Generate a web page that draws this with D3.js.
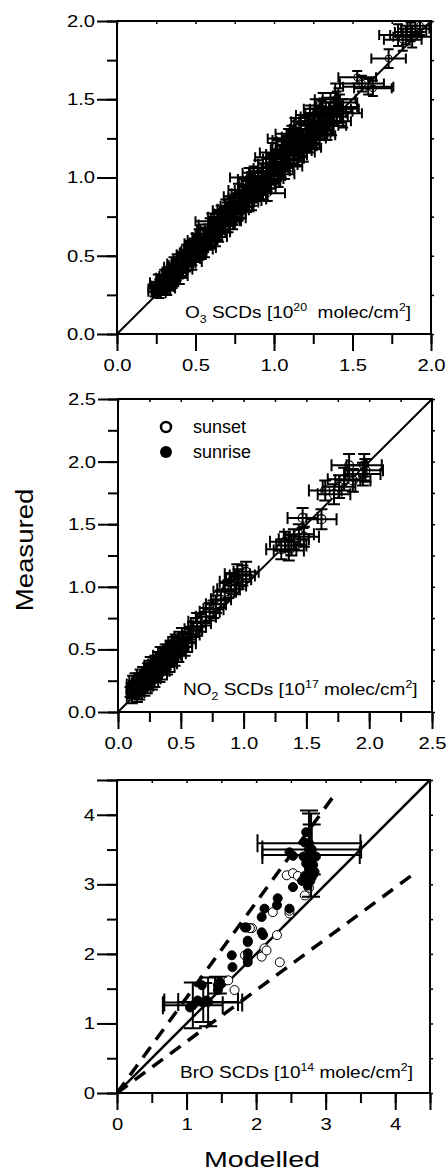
<!DOCTYPE html>
<html lang="en">
<head>
<meta charset="UTF-8">
<title>Measured vs Modelled SCDs</title>
<style>
  body { margin: 0; background: #fff; }
  svg text { font-family: "Liberation Sans", Arial, sans-serif; fill: #000; }
</style>
</head>
<body>
<svg class="chart"></svg>
<script src="https://d3js.org/d3.v7.min.js"></script>
<script>
// ---- O3 panel (all sunset, open circles) ----
var o3Modelled = [0.24,0.25,0.26,0.27,0.27,0.28,0.29,0.29,0.30,0.31,0.31,0.32,0.33,0.33,0.34,0.35,0.35,0.36,0.37,0.38,
  0.39,0.40,0.41,0.42,0.43,0.44,0.45,0.46,0.47,0.48,0.49,0.50,0.51,0.52,0.53,0.55,0.56,0.57,0.58,0.60,
  0.61,0.62,0.64,0.64,0.65,0.67,0.68,0.69,0.70,0.72,0.73,0.74,0.75,0.76,0.78,0.79,0.80,0.81,0.82,0.84,
  0.84,0.85,0.86,0.88,0.89,0.90,0.92,0.93,0.94,0.95,0.96,0.97,0.98,1.00,1.01,1.02,1.04,1.05,1.06,1.08,
  1.09,1.09,1.10,1.12,1.13,1.14,1.16,1.17,1.18,1.20,1.21,1.22,1.24,1.25,1.26,1.28,1.29,1.30,1.32,1.33,
  1.35,1.36,1.38,1.40,1.42,1.53,1.56,1.60,1.63,1.73,1.79,1.84,1.82,1.87,1.90,1.93,1.88,
  0.30,0.34,0.38,0.42,0.46,0.50,0.54,0.59,0.63,0.66,0.71,0.77,0.83,0.87,0.91,0.99,1.03,1.11,1.15,1.23,
  1.27,1.31,1.37,1.41,
  0.26,0.32,0.36,0.40,0.44,0.48,0.52,0.56,0.60,0.65,0.69,0.74,0.80,0.86,0.90,0.96,1.02,1.07,1.13,1.19,
  1.26,1.34,1.39,1.44];
var o3Measured = [0.27,0.29,0.28,0.31,0.26,0.30,0.33,0.28,0.32,0.35,0.30,0.34,0.37,0.32,0.36,0.40,0.35,0.38,0.42,0.39,
  0.44,0.41,0.46,0.44,0.48,0.45,0.50,0.48,0.53,0.50,0.55,0.52,0.57,0.55,0.58,0.57,0.62,0.60,0.64,0.62,
  0.67,0.65,0.72,0.66,0.71,0.70,0.74,0.72,0.77,0.75,0.80,0.77,0.82,0.79,0.84,0.81,0.87,0.84,0.90,0.88,
  1.00,0.92,0.89,0.95,0.92,0.98,0.96,1.01,0.97,1.04,0.90,1.01,1.06,1.04,1.09,1.06,1.12,1.08,1.15,1.12,
  1.18,1.25,1.14,1.20,1.17,1.23,1.20,1.26,1.22,1.28,1.25,1.31,1.28,1.34,1.30,1.36,1.33,1.39,1.36,1.41,
  1.39,1.44,1.42,1.45,1.44,1.64,1.60,1.58,1.57,1.76,1.91,1.91,1.88,1.93,1.95,1.97,1.90,
  0.36,0.33,0.45,0.41,0.52,0.58,0.54,0.67,0.62,0.75,0.72,0.88,0.85,0.99,0.93,1.13,1.02,1.24,1.16,1.36,
  1.27,1.44,1.36,1.48,
  0.33,0.29,0.43,0.37,0.51,0.46,0.60,0.55,0.70,0.65,0.79,0.74,0.92,0.86,1.03,0.99,1.16,1.07,1.28,1.19,
  1.40,1.33,1.50,1.41];
var o3ErrX = [0.04,0.05,0.04,0.05,0.04,0.05,0.04,0.05,0.05,0.04,0.05,0.05,0.06,0.05,0.05,0.06,0.05,0.06,0.05,0.06,
  0.06,0.05,0.06,0.06,0.07,0.06,0.06,0.07,0.06,0.07,0.06,0.07,0.07,0.06,0.07,0.07,0.08,0.07,0.08,0.07,
  0.08,0.07,0.14,0.08,0.07,0.08,0.08,0.07,0.08,0.08,0.09,0.08,0.09,0.08,0.09,0.08,0.09,0.09,0.09,0.09,
  0.12,0.10,0.09,0.10,0.09,0.10,0.09,0.10,0.10,0.10,0.11,0.10,0.11,0.10,0.11,0.10,0.11,0.10,0.11,0.11,
  0.11,0.13,0.11,0.11,0.11,0.12,0.11,0.12,0.11,0.12,0.12,0.12,0.12,0.12,0.12,0.12,0.12,0.13,0.12,0.13,
  0.12,0.13,0.12,0.13,0.12,0.12,0.14,0.16,0.12,0.11,0.12,0.10,0.12,0.10,0.09,0.08,0.12,
  0.05,0.05,0.06,0.06,0.06,0.07,0.07,0.08,0.07,0.08,0.08,0.09,0.09,0.10,0.10,0.11,0.10,0.12,0.11,0.12,
  0.12,0.12,0.12,0.12,
  0.05,0.05,0.06,0.05,0.06,0.06,0.07,0.07,0.08,0.07,0.08,0.08,0.09,0.09,0.10,0.10,0.11,0.11,0.12,0.11,
  0.12,0.12,0.13,0.12];
var o3ErrY = [0.03,0.04,0.03,0.04,0.03,0.04,0.04,0.03,0.04,0.05,0.04,0.04,0.05,0.04,0.05,0.05,0.04,0.05,0.05,0.05,
  0.05,0.05,0.06,0.05,0.06,0.05,0.06,0.05,0.06,0.06,0.06,0.05,0.06,0.06,0.06,0.05,0.06,0.06,0.06,0.06,
  0.07,0.06,0.07,0.06,0.07,0.06,0.07,0.06,0.07,0.06,0.07,0.07,0.07,0.06,0.07,0.07,0.07,0.06,0.08,0.07,
  0.06,0.08,0.07,0.08,0.07,0.08,0.07,0.08,0.07,0.08,0.05,0.08,0.08,0.08,0.08,0.08,0.09,0.08,0.09,0.08,
  0.09,0.06,0.08,0.09,0.08,0.09,0.09,0.09,0.09,0.10,0.09,0.10,0.09,0.10,0.09,0.10,0.09,0.10,0.09,0.10,
  0.09,0.10,0.09,0.10,0.09,0.04,0.05,0.05,0.05,0.06,0.07,0.06,0.07,0.06,0.05,0.06,0.07,
  0.05,0.04,0.06,0.05,0.06,0.06,0.06,0.07,0.06,0.07,0.07,0.08,0.07,0.08,0.07,0.09,0.08,0.09,0.08,0.10,
  0.09,0.10,0.09,0.09,
  0.05,0.04,0.06,0.05,0.06,0.05,0.07,0.06,0.07,0.06,0.07,0.07,0.08,0.07,0.08,0.08,0.09,0.08,0.10,0.09,
  0.10,0.09,0.10,0.09];

// ---- NO2 panel ----
var no2Modelled = [0.10,0.11,0.12,0.13,0.14,0.15,0.16,0.17,0.18,0.19,0.20,0.21,0.22,0.23,0.24,0.25,0.26,0.27,0.28,0.29,
  0.30,0.31,0.32,0.33,0.34,0.35,0.36,0.37,0.38,0.39,0.40,0.41,0.42,0.43,0.44,0.45,0.47,0.48,0.50,0.52,
  0.55,0.58,0.60,0.63,0.66,0.63,0.70,0.73,0.76,0.78,0.82,0.85,0.88,0.90,0.93,0.96,0.99,1.02,0.95,1.30,
  1.33,1.36,1.40,1.44,1.48,1.38,1.47,1.62,1.65,1.72,1.76,1.80,1.84,1.87,1.96,1.97,1.95,
  0.12,0.15,0.18,0.21,0.24,0.27,0.30,0.33,0.36,0.39,0.42,0.45,0.49,0.53,0.46,0.26,
  0.11,0.14,0.17,0.20,0.23,0.26,0.29,0.32,0.35,0.38,0.41,0.44,0.48,0.51,0.55,0.34];
var no2Measured = [0.16,0.19,0.15,0.20,0.17,0.22,0.18,0.23,0.21,0.25,0.22,0.27,0.24,0.29,0.26,0.31,0.28,0.33,0.30,0.35,
  0.32,0.37,0.34,0.39,0.36,0.41,0.38,0.43,0.40,0.45,0.42,0.47,0.44,0.49,0.46,0.51,0.50,0.54,0.53,0.57,
  0.58,0.62,0.66,0.68,0.71,0.72,0.76,0.80,0.82,0.86,0.90,0.96,0.98,1.04,1.01,1.06,1.09,1.12,1.10,1.30,
  1.36,1.29,1.38,1.42,1.40,1.33,1.55,1.54,1.77,1.74,1.80,1.86,1.97,1.85,1.97,1.93,1.90,
  0.22,0.14,0.27,0.19,0.32,0.25,0.38,0.31,0.44,0.37,0.50,0.44,0.57,0.52,0.55,0.34,
  0.13,0.24,0.16,0.29,0.21,0.37,0.27,0.41,0.33,0.47,0.39,0.53,0.47,0.60,0.55,0.45];
var no2ErrX = [0.03,0.04,0.03,0.04,0.04,0.04,0.04,0.04,0.04,0.05,0.04,0.05,0.05,0.05,0.05,0.05,0.05,0.05,0.05,0.05,
  0.05,0.05,0.05,0.05,0.05,0.06,0.05,0.06,0.05,0.06,0.06,0.06,0.06,0.06,0.06,0.06,0.06,0.06,0.06,0.07,
  0.07,0.07,0.07,0.07,0.08,0.07,0.08,0.08,0.08,0.08,0.08,0.09,0.09,0.09,0.09,0.10,0.10,0.10,0.10,0.12,
  0.12,0.12,0.12,0.12,0.12,0.12,0.12,0.12,0.13,0.13,0.13,0.13,0.14,0.14,0.14,0.14,0.14,
  0.05,0.04,0.05,0.05,0.05,0.05,0.06,0.06,0.06,0.06,0.06,0.06,0.06,0.06,0.06,0.05,
  0.04,0.05,0.04,0.05,0.05,0.05,0.05,0.06,0.06,0.06,0.06,0.06,0.06,0.06,0.07,0.06];
var no2ErrY = [0.04,0.04,0.04,0.05,0.04,0.05,0.04,0.05,0.05,0.05,0.05,0.05,0.05,0.05,0.05,0.06,0.05,0.06,0.05,0.06,
  0.05,0.06,0.05,0.06,0.06,0.06,0.06,0.06,0.06,0.06,0.06,0.06,0.06,0.06,0.06,0.06,0.06,0.06,0.06,0.06,
  0.06,0.06,0.06,0.07,0.07,0.07,0.07,0.07,0.07,0.07,0.07,0.07,0.07,0.07,0.07,0.08,0.08,0.08,0.08,0.08,
  0.08,0.08,0.08,0.08,0.08,0.08,0.08,0.08,0.08,0.08,0.09,0.09,0.09,0.09,0.09,0.09,0.09,
  0.07,0.06,0.07,0.06,0.07,0.07,0.07,0.07,0.07,0.07,0.07,0.07,0.07,0.07,0.07,0.07,
  0.06,0.07,0.06,0.07,0.06,0.07,0.07,0.07,0.07,0.07,0.07,0.07,0.07,0.07,0.07,0.07];

// ---- BrO panel ----
var broSunsetModelled = [2.44,2.53,2.70,2.24,2.48,1.94,2.30,2.12,1.84,2.08,2.34,1.60,1.69,2.48,2.76,2.60,2.15,1.91];
var broSunsetMeasured = [3.13,3.16,2.84,2.60,2.58,2.37,2.27,2.08,1.98,1.96,1.88,1.62,1.48,2.62,2.95,3.12,2.05,2.37];
var broSunriseModelled = [2.70,2.74,2.48,2.53,2.53,2.31,2.30,2.48,2.12,2.08,1.84,2.08,2.10,1.88,1.88,1.86,1.88,1.65,
  1.66,1.88,1.88,1.48,1.45,1.22,1.16,1.05,1.29,2.72,2.76,2.80,2.70,2.78,2.84,2.74,2.82,2.68,2.86,2.79,2.66,2.80,2.76,2.72];
var broSunriseMeasured = [3.60,3.37,3.46,3.41,2.96,2.80,2.70,2.65,2.65,2.53,2.38,2.31,2.27,2.17,2.01,2.38,2.19,1.98,
  1.81,1.93,1.88,1.59,1.48,1.55,1.33,1.23,1.33,3.30,3.22,3.35,3.12,3.05,3.18,2.98,3.28,3.40,3.40,3.45,3.05,3.10,3.50,3.75];
// sunrise points that carry error bars
var broBarModelled = [2.76,2.79,2.80,1.09,1.31,1.24,1.45];
var broBarMeasured = [3.59,3.42,3.50,1.26,1.31,1.30,1.55];
var broBarErrX = [0.74,0.70,0.71,0.43,0.43,0.56,0.04];
var broBarErrY = [0.47,0.60,0.36,0.33,0.35,0.28,0.12];
var broLimitUpper = [[0, 0], [3.13, 4.29]];
var broLimitLower = [[0, 0], [4.28, 3.16]];

// ---- ticks / labels ----
var o3Ticks = [0, 0.5, 1, 1.5, 2];
var no2Ticks = [0, 0.5, 1, 1.5, 2, 2.5];
var broTicks = [0, 1, 2, 3, 4];
var legendLabels = ['sunset', 'sunrise'];

var stretchK = 1.19;
var annotK = 1.12;
var svg = d3.select('.chart').attr('width', 446).attr('height', 1171);

function stretch(sel, k) {
    sel.each(function() {
        var w = this.getComputedTextLength();
        d3.select(this).attr('textLength', w * k).attr('lengthAdjust', 'spacingAndGlyphs');
    });
}

function styleAxis(a, width) {
    a.select('.domain').remove();
    a.selectAll('line').attr('stroke', '#000').attr('stroke-width', width);
    a.attr('font-family', null).attr('font-size', 17);
}

function drawPanel(p) {
    var x = d3.scaleLinear().domain([0, p.max]).range([p.left, p.right]);
    var y = d3.scaleLinear().domain([0, p.max]).range([p.bottom, p.top]);
    var minor = d3.range(0, p.max + 1e-9, p.minorStep);
    var g = svg.append('g');

    // minor ticks
    g.append('g').attr('transform', `translate(${p.left},0)`)
        .call(d3.axisLeft(y).tickValues(minor).tickSize(10).tickFormat(''))
        .call(a => styleAxis(a, 2));
    g.append('g').attr('transform', `translate(0,${p.bottom})`)
        .call(d3.axisBottom(x).tickValues(minor).tickSize(10).tickFormat(''))
        .call(a => styleAxis(a, 2));
    // small ticks on top and right
    g.append('g').attr('transform', `translate(0,${p.top})`)
        .call(d3.axisBottom(x).tickValues(minor).tickSize(3).tickFormat(''))
        .call(a => styleAxis(a, 1.5));
    g.append('g').attr('transform', `translate(${p.right},0)`)
        .call(d3.axisRight(y).tickValues(minor).tickSize(3).tickFormat(''))
        .call(a => styleAxis(a, 1.5));

    // major ticks with labels
    var yAx = g.append('g').attr('transform', `translate(${p.left},0)`)
        .call(d3.axisLeft(y).tickValues(p.ticks.concat(p.extraTick || [])).tickSize(20).tickPadding(2)
            .tickFormat(d => p.ticks.indexOf(d) >= 0 ? d3.format(p.fmt)(d) : ''))
        .call(a => styleAxis(a, 2));
    var xAx = g.append('g').attr('transform', `translate(0,${p.bottom})`)
        .call(d3.axisBottom(x).tickValues(p.ticks.concat(p.extraTick || [])).tickSize(17).tickPadding(8)
            .tickFormat(d => p.ticks.indexOf(d) >= 0 ? d3.format(p.fmt)(d) : ''))
        .call(a => styleAxis(a, 2));
    stretch(yAx.selectAll('text'), stretchK);
    stretch(xAx.selectAll('text'), stretchK);

    var clipId = 'clip' + p.id;
    svg.append('clipPath').attr('id', clipId).append('rect')
        .attr('x', p.left).attr('y', p.top).attr('width', p.right - p.left).attr('height', p.bottom - p.top);
    var inner = g.append('g').attr('clip-path', `url(#${clipId})`);

    // 1:1 line
    inner.append('line')
        .attr('x1', x(0)).attr('y1', y(0)).attr('x2', x(p.max)).attr('y2', y(p.max))
        .attr('stroke', '#000').attr('stroke-width', p.lineWidth);

    g.append('rect')
        .attr('x', p.left).attr('y', p.top).attr('width', p.right - p.left).attr('height', p.bottom - p.top)
        .attr('fill', 'none').attr('stroke', '#000').attr('stroke-width', 2);

    return {x: x, y: y, g: g, inner: inner};
}

// symbols first, error bars drawn over them
function drawPoints(inner, x, y, mod, meas, ex, ey, opt) {
    var pts = mod.map((m, i) => ({m: m, v: meas[i], ex: ex ? ex[i] : 0, ey: ey ? ey[i] : 0}));
    var c = opt.cap;
    inner.append('g').selectAll('circle').data(pts).enter().append('circle')
        .attr('cx', d => x(d.m)).attr('cy', d => y(d.v)).attr('r', opt.r)
        .attr('fill', opt.filled ? '#000' : '#fff')
        .attr('stroke', '#000').attr('stroke-width', opt.strokeWidth);
    var bars = inner.append('g').attr('fill', 'none').attr('stroke', '#000').attr('stroke-width', opt.barWidth);
    bars.selectAll('path.h').data(pts.filter(d => d.ex > 0)).enter().append('path')
        .attr('class', 'h')
        .attr('d', d => {
            var cy = y(d.v), x0 = x(d.m - d.ex), x1 = x(d.m + d.ex);
            return `M${x0},${cy}H${x1}M${x0},${cy - c}V${cy + c}M${x1},${cy - c}V${cy + c}`;
        });
    bars.selectAll('path.v').data(pts.filter(d => d.ey > 0)).enter().append('path')
        .attr('class', 'v')
        .attr('d', d => {
            var cx = x(d.m), y0 = y(d.v - d.ey), y1 = y(d.v + d.ey);
            return `M${cx},${y0}V${y1}M${cx - c},${y0}H${cx + c}M${cx - c},${y1}H${cx + c}`;
        });
}

function annotate(g, px, py, species, sub, exponent, gap) {
    var t = g.append('text').attr('transform', `translate(${px},${py}) scale(${annotK},1)`)
        .attr('font-size', 17).style('white-space', 'pre');
    t.append('tspan').text(species);
    if (sub) {
        t.append('tspan').attr('font-size', 11).attr('dy', 5).text(sub);
        t.append('tspan').attr('dy', -5).text(' SCDs [10');
    } else {
        t.append('tspan').text(' SCDs [10');
    }
    t.append('tspan').attr('font-size', 11).attr('dy', -7).text(exponent);
    t.append('tspan').attr('dy', 7).text(gap + 'molec/cm');
    t.append('tspan').attr('font-size', 11).attr('dy', -7).text('2');
    t.append('tspan').attr('dy', 7).text(']');
}

// ---- O3 ----
var p1 = drawPanel({id: 1, left: 117, right: 431, top: 21, bottom: 334, max: 2, minorStep: 0.25,
    ticks: o3Ticks, fmt: '.1f', lineWidth: 2});
drawPoints(p1.inner, p1.x, p1.y, o3Modelled, o3Measured, o3ErrX, o3ErrY,
    {cap: 5, barWidth: 2, r: 3.5, filled: false, strokeWidth: 1});
annotate(p1.g, 185, 318, 'O', '3', '20', '  ');

// ---- NO2 ----
var p2 = drawPanel({id: 2, left: 118, right: 432, top: 399, bottom: 712, max: 2.5, minorStep: 0.25,
    ticks: no2Ticks, fmt: '.1f', lineWidth: 2});
drawPoints(p2.inner, p2.x, p2.y, no2Modelled, no2Measured, no2ErrX, no2ErrY,
    {cap: 6, barWidth: 2, r: 4.5, filled: false, strokeWidth: 1.2});
annotate(p2.g, 183, 695, 'NO', '2', '17', ' ');

// legend
var leg = p2.g.append('g');
leg.selectAll('circle').data(legendLabels).enter().append('circle')
    .attr('cx', 166).attr('cy', (d, i) => 427 + i * 25)
    .attr('r', (d, i) => i ? 6 : 5)
    .attr('fill', (d, i) => i ? '#000' : '#fff')
    .attr('stroke', '#000').attr('stroke-width', (d, i) => i ? 0 : 2.5);
leg.selectAll('text').data(legendLabels).enter().append('text')
    .attr('x', 193).attr('y', (d, i) => 433 + i * 25)
    .attr('font-size', 18).text(d => d);

// ---- BrO ----
var p3 = drawPanel({id: 3, left: 117, right: 430, top: 780, bottom: 1093, max: 4.5, minorStep: 0.5,
    ticks: broTicks, extraTick: [4.5], fmt: 'd', lineWidth: 2.5});
var dash = d3.line().x(d => p3.x(d[0])).y(d => p3.y(d[1]));
[broLimitUpper, broLimitLower].forEach(function(l) {
    p3.inner.append('path').attr('d', dash(l))
        .attr('fill', 'none').attr('stroke', '#000').attr('stroke-width', 3.5)
        .attr('stroke-dasharray', '13,9');
});
drawPoints(p3.inner, p3.x, p3.y, broSunsetModelled, broSunsetMeasured, null, null,
    {cap: 9, barWidth: 1.5, r: 4.5, filled: false, strokeWidth: 1});
drawPoints(p3.inner, p3.x, p3.y, broSunriseModelled, broSunriseMeasured, null, null,
    {cap: 9, barWidth: 1.5, r: 4.5, filled: true, strokeWidth: 1});
drawPoints(p3.inner, p3.x, p3.y, broBarModelled, broBarMeasured, broBarErrX, broBarErrY,
    {cap: 9, barWidth: 2, r: 4.5, filled: true, strokeWidth: 1});
annotate(p3.g, 180, 1078, 'BrO', null, '14', ' ');

// axis titles
svg.append('text').attr('transform', 'translate(33,550) rotate(-90)')
    .attr('text-anchor', 'middle').attr('font-size', 23).text('Measured')
    .call(s => stretch(s, 1.2));
svg.append('text').attr('x', 262).attr('y', 1167)
    .attr('text-anchor', 'middle').attr('font-size', 22).text('Modelled')
    .call(s => stretch(s, 1.3));
</script>
</body>
</html>
